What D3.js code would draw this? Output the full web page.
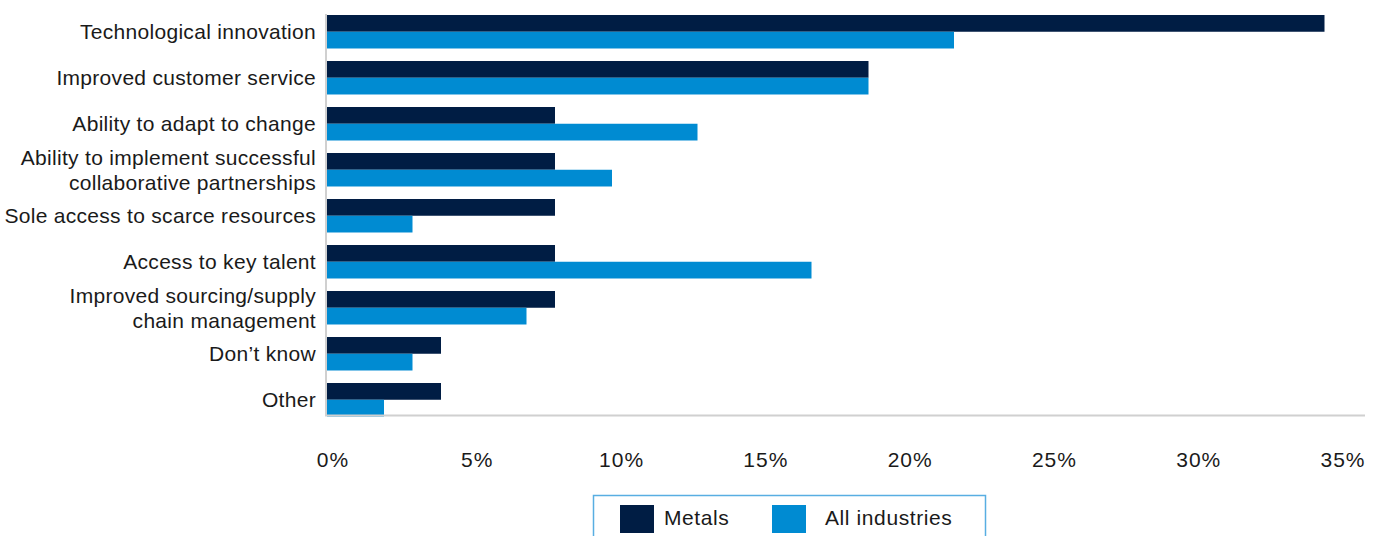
<!DOCTYPE html>
<html>
<head>
<meta charset="utf-8">
<script src="https://cdn.jsdelivr.net/npm/d3@7"></script>
<style>
  body { margin: 0; background: #fff; }
  text { font-family: "Liberation Sans", Arial, Helvetica, sans-serif; fill: #1a1a1a; }
</style>
</head>
<body>
<svg id="chart"></svg>
<script>
// categories, top to bottom
const categories = [
  'Technological innovation',
  'Improved customer service',
  'Ability to adapt to change',
  'Ability to implement successful|collaborative partnerships',
  'Sole access to scarce resources',
  'Access to key talent',
  'Improved sourcing/supply|chain management',
  'Don\u2019t know',
  'Other'
];
const metals = [35, 19, 8, 8, 8, 8, 8, 4, 4];
const allIndustries = [22, 19, 13, 10, 3, 17, 7, 3, 2];
const seriesNames = ['Metals', 'All industries'];
const colors = ['#001d44', '#008bd2'];
const tickValues = [0, 5, 10, 15, 20, 25, 30, 35];

const width = 1381, height = 536;
const svg = d3.select('#chart').attr('width', width).attr('height', height);

const data = categories.map((c, i) => ({ cat: c, values: [metals[i], allIndustries[i]] }));

const x = d3.scaleLinear().domain([0, 35]).range([327, 1324.5]);
// tick labels sit a little wider than the bar scale in the original
const xLabels = x.copy().range([332.5, 1342.5]);

const y = d3.scaleBand()
  .domain(categories)
  .range([8.75, 422.75])
  .paddingInner(0.272)
  .paddingOuter(0.136);

const ySub = d3.scaleBand()
  .domain([0, 1])
  .range([0, y.bandwidth()]);

// bars
const groups = svg.append('g')
  .selectAll('g')
  .data(data)
  .join('g')
  .attr('transform', d => `translate(0,${y(d.cat)})`);

groups.selectAll('rect')
  .data(d => d.values)
  .join('rect')
  .attr('x', x(0))
  .attr('y', (d, i) => ySub(i))
  .attr('width', d => x(d) - x(0))
  .attr('height', ySub.bandwidth())
  .attr('fill', (d, i) => colors[i]);

// axis lines
svg.append('line')
  .attr('x1', 326).attr('x2', 326)
  .attr('y1', 14).attr('y2', 416)
  .attr('stroke', '#d0d0d0').attr('stroke-width', 2);
svg.append('line')
  .attr('x1', 325).attr('x2', 1365)
  .attr('y1', 415.5).attr('y2', 415.5)
  .attr('stroke', '#d0d0d0').attr('stroke-width', 2);

// category labels
const labels = svg.append('g')
  .selectAll('text')
  .data(categories)
  .join('text')
  .attr('text-anchor', 'end')
  .attr('font-size', 21)
  .attr('letter-spacing', 0.3)
  .attr('x', 316)
  .attr('y', d => y(d) + y.bandwidth() / 2);

labels.each(function(d) {
  const lines = d.split('|');
  const t = d3.select(this);
  lines.forEach((ln, i) => {
    const off = (i - (lines.length - 1) / 2) * 25.5 + 2;
    t.append('tspan')
      .attr('x', 316)
      .attr('dy', i === 0 ? `${off}px` : '25.5px')
      .attr('dominant-baseline', 'middle')
      .text(ln);
  });
});

// x axis tick labels
const xAxis = svg.append('g')
  .attr('transform', 'translate(0,452)')
  .call(d3.axisBottom(xLabels).tickValues(tickValues).tickFormat(d => d + '%').tickSize(0).tickPadding(0));
xAxis.select('.domain').remove();
xAxis.selectAll('text')
  .attr('font-size', 21)
  .attr('letter-spacing', 1)
  .attr('font-family', '"Liberation Sans", Arial, Helvetica, sans-serif')
  .attr('fill', '#1a1a1a')
  .attr('dy', '0.71em');

// legend
const legend = svg.append('g');
legend.append('rect')
  .attr('x', 593.5).attr('y', 495.5)
  .attr('width', 392).attr('height', 60)
  .attr('fill', 'none')
  .attr('stroke', '#58aee2').attr('stroke-width', 1.5);

const legendX = [620, 772];
const items = legend.selectAll('g.item')
  .data(seriesNames)
  .join('g')
  .attr('class', 'item')
  .attr('transform', (d, i) => `translate(${legendX[i]},505)`);
items.append('rect')
  .attr('width', 34).attr('height', 28)
  .attr('fill', (d, i) => colors[i]);
items.append('text')
  .attr('x', (d, i) => i === 0 ? 44 : 53)
  .attr('y', 19.5)
  .attr('font-size', 21)
  .attr('letter-spacing', 0.6)
  .text(d => d);
</script>
</body>
</html>
